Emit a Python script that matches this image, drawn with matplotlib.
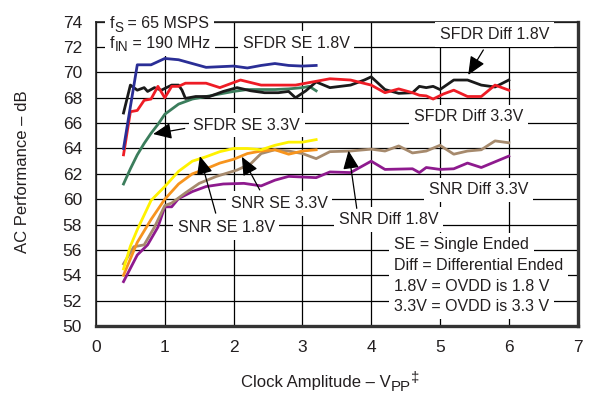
import matplotlib
matplotlib.use("Agg")
import matplotlib.pyplot as plt
from matplotlib.transforms import offset_copy

plt.rcParams['font.family'] = ['Liberation Sans', 'DejaVu Sans']

TXT = '#231f20'

# ---- data ----
sfdr_se18_x = [0.4, 0.6, 0.8, 1.0, 1.2, 1.4, 1.6, 1.8, 2.0, 2.2, 2.4, 2.6, 2.8, 3.0, 3.2]
sfdr_se18_y = [64.0, 70.6, 70.6, 71.1, 71.0, 70.7, 70.4, 70.45, 70.5, 70.35, 70.55, 70.7, 70.55, 70.5, 70.55]

sfdr_se33_x = [0.4, 0.5, 0.6, 0.7, 0.8, 0.9, 1.0, 1.2, 1.4, 1.6, 1.8, 2.0, 2.2, 2.4, 2.6, 2.8, 3.0, 3.1, 3.2]
sfdr_se33_y = [61.2, 62.4, 63.5, 64.4, 65.2, 65.9, 66.7, 67.5, 67.9, 68.1, 68.3, 68.5, 68.65, 68.65, 68.65, 68.7, 68.8, 68.9, 68.55]

sfdr_diff33_x = [0.4, 0.5, 0.6, 0.7, 0.8, 0.9, 1.0, 1.1, 1.2, 1.3, 1.6, 1.8, 2.1, 2.4, 2.6, 2.9, 3.2, 3.4,
                 3.7, 4.0, 4.2, 4.4, 4.6, 4.7, 4.8, 4.9, 5.05, 5.2, 5.4, 5.6, 5.8, 6.0]
sfdr_diff33_y = [63.5, 66.9, 67.0, 67.8, 67.9, 68.9, 68.0, 68.9, 68.9, 69.15, 69.15, 68.8, 69.4, 69.0, 69.0, 69.0, 69.3, 69.5,
                 69.4, 69.0, 68.4, 68.7, 68.4, 68.2, 68.15, 67.9, 68.3, 68.6, 68.1, 68.1, 69.0, 68.6]

sfdr_diff18_x = [0.4, 0.5, 0.6, 0.7, 0.75, 0.85, 0.95, 1.1, 1.2, 1.25, 1.3, 1.45, 1.65, 1.85, 2.05, 2.25, 2.45,
                 2.65, 2.8, 2.9, 3.05, 3.2, 3.4, 3.7, 3.9, 4.0, 4.2, 4.4, 4.6, 4.7, 4.8, 4.9, 5.0, 5.2, 5.4,
                 5.6, 5.8, 6.0]
sfdr_diff18_y = [66.8, 69.0, 68.6, 68.8, 68.5, 68.8, 68.6, 69.0, 69.0, 68.6, 67.95, 68.1, 68.1, 68.5, 68.8, 68.55, 68.4,
                 68.4, 68.5, 68.0, 68.55, 69.25, 68.8, 69.0, 69.4, 69.65, 68.65, 68.35, 68.4, 68.9, 68.8, 68.9, 68.65, 69.4, 69.4,
                 69.0, 68.85, 69.4]

snr_se18_x = [0.4, 0.5, 0.6, 0.8, 1.0, 1.2, 1.4, 1.6, 1.8, 2.0, 2.2, 2.4, 2.6, 2.8, 3.0, 3.2]
snr_se18_y = [54.5, 56.3, 57.6, 59.9, 61.0, 62.2, 63.0, 63.35, 63.75, 64.0, 64.0, 63.9, 64.25, 64.5, 64.5, 64.7]

snr_se33_x = [0.4, 0.6, 0.8, 1.0, 1.2, 1.4, 1.6, 1.8, 2.0, 2.2, 2.4, 2.6, 2.8, 3.0, 3.2]
snr_se33_y = [54.0, 56.6, 58.4, 60.0, 61.2, 62.0, 62.4, 62.85, 63.15, 63.6, 63.8, 63.9, 63.55, 63.8, 63.9]

snr_diff18_x = [0.4, 0.55, 0.7, 0.85, 1.0, 1.1, 1.3, 1.5, 1.75, 2.05, 2.25, 2.4, 2.6, 2.8, 3.0, 3.2, 3.4, 3.7,
                4.0, 4.2, 4.4, 4.6, 4.8, 5.0, 5.2, 5.4, 5.6, 5.8, 6.0]
snr_diff18_y = [54.9, 56.25, 56.4, 57.8, 59.5, 59.7, 60.5, 61.25, 61.8, 62.3, 62.8, 63.6, 63.9, 63.8, 63.6, 63.2, 63.75, 63.8,
                63.95, 63.8, 64.2, 63.65, 63.8, 64.25, 63.55, 63.8, 63.9, 64.6, 64.45]

snr_diff33_x = [0.4, 0.6, 0.75, 0.9, 1.0, 1.1, 1.2, 1.4, 1.6, 1.85, 2.15, 2.4, 2.6, 2.8, 3.0, 3.2, 3.4, 3.7,
                4.0, 4.2, 4.6, 4.7, 4.8, 5.0, 5.2, 5.4, 5.6, 5.8, 6.0]
snr_diff33_y = [53.5, 55.6, 56.4, 57.8, 59.4, 59.4, 60.05, 60.6, 61.0, 61.2, 61.25, 61.05, 61.5, 61.8, 61.75, 61.7, 62.15, 62.1,
                63.0, 62.35, 62.4, 62.1, 62.5, 62.35, 62.4, 62.85, 62.5, 62.95, 63.4]

x_ticks = [0, 1, 2, 3, 4, 5, 6, 7]
y_ticks = [50, 52, 54, 56, 58, 60, 62, 64, 66, 68, 70, 72, 74]

fig = plt.figure(figsize=(5.89, 4.01), dpi=100)
ax = fig.add_axes([96/589, 1 - 326/401, (577.6 - 96)/589, (326 - 21.7)/401])
ax.set_xlim(0, 7)
ax.set_ylim(50, 74)
ax.set_xticks(x_ticks)
ax.set_yticks(y_ticks)
ax.tick_params(length=0, labelsize=12.5, labelcolor=TXT)
ax.tick_params(axis='y', pad=10)
ax.tick_params(axis='x', pad=10)
ax.grid(True, color='black', lw=0.9)
ax.set_axisbelow(True)
for s in ['left', 'top']:
    ax.spines[s].set_linewidth(1.2)
    ax.spines[s].set_color('#222222')
for s in ['right', 'bottom']:
    ax.spines[s].set_linewidth(2.4)
    ax.spines[s].set_color('#333333')

lw = 2.0
ax.plot(sfdr_se33_x, sfdr_se33_y, color='#3b7d5c', lw=lw, zorder=3)
ax.plot(sfdr_diff18_x, sfdr_diff18_y, color='#1a1a1a', lw=lw, zorder=3)
ax.plot(sfdr_diff33_x, sfdr_diff33_y, color='#ee1c25', lw=lw, zorder=3)
ax.plot(sfdr_se18_x, sfdr_se18_y, color='#2a2e96', lw=lw, zorder=3)
ax.plot(snr_diff33_x, snr_diff33_y, color='#8e1a8e', lw=lw, zorder=3)
ax.plot(snr_diff18_x, snr_diff18_y, color='#a68a6d', lw=lw, zorder=3)
ax.plot(snr_se33_x, snr_se33_y, color='#f7941d', lw=lw, zorder=3)
ax.plot(snr_se18_x, snr_se18_y, color='#fff200', lw=lw, zorder=3)

bbox = dict(boxstyle='square,pad=0.3', fc='white', ec='none')
fs = 11.5

def label(x, y, s, ha='center'):
    ax.text(x, y, s, ha=ha, va='center', fontsize=fs, color=TXT, bbox=bbox, zorder=4)

label(2.91, 72.3, 'SFDR SE 1.8V')
label(5.79, 73.0, 'SFDR Diff 1.8V')
label(5.42, 66.5, 'SFDR Diff 3.3V')
label(2.19, 65.85, 'SFDR SE 3.3V')
label(2.66, 59.67, 'SNR SE 3.3V')
label(1.89, 57.78, 'SNR SE 1.8V')
label(5.56, 60.73, 'SNR Diff 3.3V')
label(4.25, 58.41, 'SNR Diff 1.8V')

renderer = fig.canvas.get_renderer()


def compose(x, y, parts, transform, fontsize, ha='left', box=False, rot=0):
    """parts: list of (string, dy_pixels, size_scale)."""
    made = []
    for s, dy, sc in parts:
        t = fig.text(x, y, s, fontsize=fontsize * sc, color=TXT, ha='left', va='center',
                     transform=transform, zorder=4)
        made.append(t)
    widths = [t.get_window_extent(renderer).width for t in made]
    total = sum(widths)
    dx = -total / 2 if ha == 'center' else 0
    for t, w, (s, dy, sc) in zip(made, widths, parts):
        tr = offset_copy(transform, fig=fig, x=dx, y=dy, units='dots')
        t.set_transform(tr)
        if box:
            b = fig.text(x, y, s, fontsize=fontsize * sc, color='white', ha='left', va='center',
                         transform=tr, zorder=3.9, bbox=bbox)
        dx += w
    return made


compose(0.2, 73.85, [('f', 0, 1.0), ('S', -4, 0.85), (' = 65 MSPS', 0, 1.0)], ax.transData, fs, box=True)
compose(0.2, 72.3, [('f', 0, 1.0), ('IN', -4, 0.85), (' = 190 MHz', 0, 1.0)], ax.transData, fs, box=True)

notes = ['SE = Single Ended', 'Diff = Differential Ended', '1.8V = OVDD is 1.8 V', '3.3V = OVDD is 3.3 V']
note_y = [56.39, 54.75, 53.15, 51.52]
for s, yy in zip(notes, note_y):
    ax.text(4.33, yy, s, ha='left', va='center', fontsize=fs, color=TXT, bbox=bbox, zorder=4)

arrows = [((0.83, 65.14), (1.29, 65.58)),
          ((5.41, 69.8), (5.63, 71.77)),
          ((2.12, 63.35), (2.38, 60.73)),
          ((1.51, 63.4), (1.74, 58.9)),
          ((3.67, 63.83), (3.79, 59.28))]
for tip, start in arrows:
    ax.annotate('', xy=tip, xytext=start,
                arrowprops=dict(arrowstyle='-|>,head_length=0.8,head_width=0.35', color='black',
                                lw=0.9, mutation_scale=14, shrinkA=0, shrinkB=0), zorder=5)

compose(330/589, 1 - 383/401, [('Clock Amplitude – V', 0, 1.0), ('PP', -4, 0.9), ('‡', 5, 0.9)],
        fig.transFigure, 12, ha='center')
fig.text(23/589, 1 - 172/401, 'AC Performance – dB', ha='center', va='center', rotation=90,
         fontsize=12, color=TXT)

fig.savefig('out.png', dpi=100)
